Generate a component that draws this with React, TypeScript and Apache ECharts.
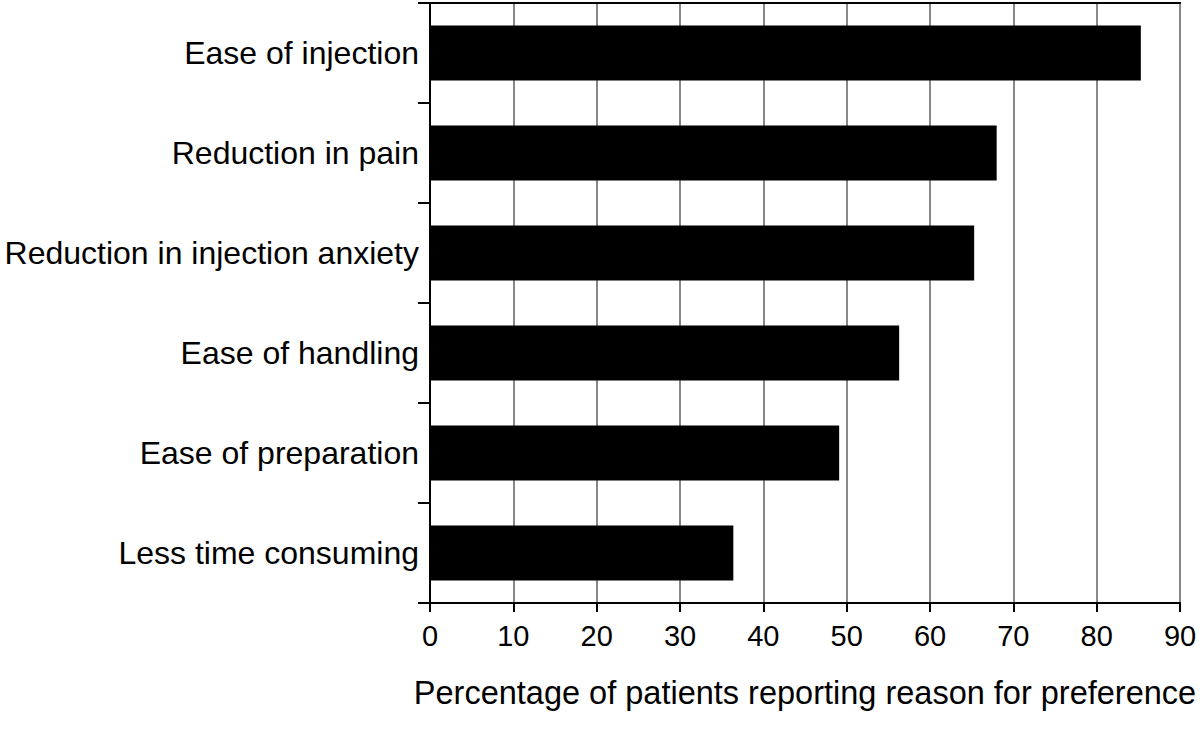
import React, { useEffect, useRef } from "react";
import * as echarts from "echarts";

const categories = [
  "Ease of injection",
  "Reduction in pain",
  "Reduction in injection anxiety",
  "Ease of handling",
  "Ease of preparation",
  "Less time consuming",
];
const values = [85.3, 68.0, 65.3, 56.3, 49.1, 36.4];
const xAxisName = "Percentage of patients reporting reason for preference";

const FONT = "Liberation Sans, Arial, sans-serif";

export default function App() {
  const ref = useRef<HTMLDivElement>(null);
  useEffect(() => {
    if (!ref.current) return;
    const chart = echarts.init(ref.current, undefined, { renderer: "svg" });
    chart.setOption({
      animation: false,
      backgroundColor: "#ffffff",
      grid: {
        left: 430,
        right: 20,
        top: 3,
        bottom: 133,
        show: true,
        borderColor: "#000",
        borderWidth: 2,
      },
      xAxis: [
        {
          type: "value",
          min: 0,
          max: 90,
          interval: 10,
          name: xAxisName,
          nameLocation: "middle",
          nameGap: 73,
          nameTextStyle: { fontFamily: FONT, fontSize: 32.5, color: "#000" },
          axisLine: { show: true, lineStyle: { color: "#000", width: 2 } },
          axisTick: { show: true, length: 9, lineStyle: { color: "#000", width: 2 } },
          axisLabel: { margin: 18, fontFamily: FONT, fontSize: 29, color: "#000" },
          splitLine: { show: true, lineStyle: { color: "#888", width: 2 } },
        },
        {
          type: "value",
          position: "top",
          min: 0,
          max: 90,
          interval: 10,
          axisLine: { show: true, lineStyle: { color: "#000", width: 2 } },
          axisTick: { show: false },
          axisLabel: { show: false },
          splitLine: { show: false },
        },
      ],
      yAxis: [
        {
          type: "category",
          data: categories,
          inverse: true,
          axisLine: { show: true, lineStyle: { color: "#000", width: 2 } },
          axisTick: { show: true, length: 12, lineStyle: { color: "#000", width: 2 } },
          axisLabel: { margin: 11, fontFamily: FONT, fontSize: 32, color: "#000" },
          splitLine: { show: false },
        },
        {
          type: "category",
          data: categories,
          inverse: true,
          position: "right",
          axisLine: { show: true, lineStyle: { color: "#000", width: 2 } },
          axisTick: { show: false },
          axisLabel: { show: false },
          splitLine: { show: false },
        },
      ],
      series: [
        {
          type: "bar",
          data: values,
          barWidth: 55,
          xAxisIndex: 0,
          yAxisIndex: 0,
          itemStyle: { color: "#000" },
        },
      ],
    });
    return () => chart.dispose();
  }, []);
  return (
    <div
      ref={ref}
      style={{ position: "absolute", left: 0, top: 0, width: 1200, height: 736 }}
    />
  );
}
